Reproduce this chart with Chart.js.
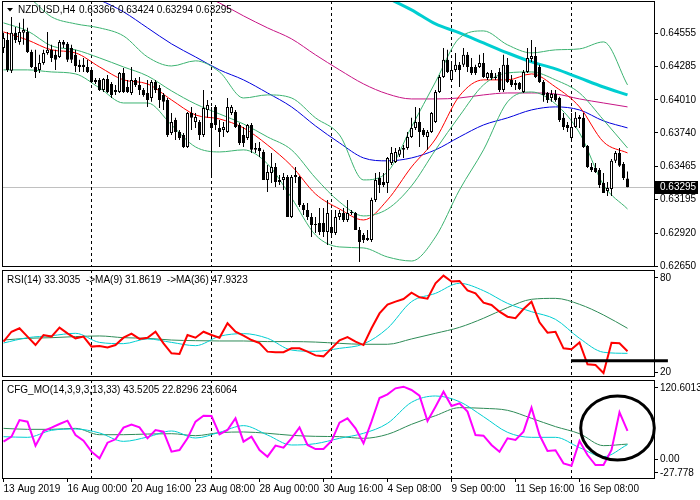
<!DOCTYPE html>
<html>
<head>
<meta charset="utf-8">
<script src="https://cdn.jsdelivr.net/npm/chart.js@4.4.0/dist/chart.umd.min.js"></script>
<style>
  html, body { margin: 0; padding: 0; background: #fff; }
  #wrap { position: relative; width: 700px; height: 500px; overflow: hidden; }
  canvas { position: absolute; left: 0; }
</style>
</head>
<body>
<div id="wrap">
  <canvas id="pricePane" width="700" height="272" style="top:0"></canvas>
  <canvas id="rsiPane" width="700" height="112" style="top:268px"></canvas>
  <canvas id="cfgPane" width="700" height="123" style="top:377px"></canvas>
</div>
<script>
// ---- NZDUSD H4 candles (13 Aug 2019 08:00 .. 18 Sep 2019 08:00) ----
const OPENS = [
  0.64436, 0.64501, 0.64248, 0.64559, 0.64485, 0.64559, 0.64567, 0.64403, 0.64280, 0.64256,
  0.64313, 0.64395, 0.64420, 0.64379, 0.64362, 0.64485, 0.64469, 0.64436, 0.64379, 0.64297,
  0.64297, 0.64280, 0.64256, 0.64157, 0.64174, 0.64092, 0.64182, 0.64141, 0.64092, 0.64075,
  0.64231, 0.64116, 0.64067, 0.64174, 0.64133, 0.64092, 0.64067, 0.64026, 0.64157, 0.64108,
  0.64051, 0.64010, 0.63740, 0.63846, 0.63748, 0.63723, 0.63625, 0.63903, 0.63830, 0.63830,
  0.63723, 0.63928, 0.63822, 0.63953, 0.63781, 0.63764, 0.63748, 0.63903, 0.63912, 0.63805,
  0.63723, 0.63699, 0.63805, 0.63617, 0.63617, 0.63584, 0.63355, 0.63412, 0.63461, 0.63355,
  0.63355, 0.63379, 0.63052, 0.63396, 0.63379, 0.63150, 0.63109, 0.63052, 0.62986, 0.63002,
  0.63002, 0.62929, 0.62970, 0.62920, 0.63052, 0.63084, 0.63027, 0.63093, 0.63084, 0.62945,
  0.62904, 0.62863, 0.62863, 0.63191, 0.63371, 0.63338, 0.63330, 0.63494, 0.63502, 0.63560,
  0.63617, 0.63617, 0.63707, 0.63781, 0.63830, 0.63764, 0.63707, 0.63748, 0.63830, 0.64075,
  0.64198, 0.64338, 0.64174, 0.64256, 0.64297, 0.64297, 0.64379, 0.64280, 0.64280, 0.64280,
  0.64313, 0.64190, 0.64231, 0.64198, 0.64239, 0.64092, 0.64297, 0.64174, 0.64149, 0.64149,
  0.64075, 0.64239, 0.64346, 0.64370, 0.64280, 0.64157, 0.64067, 0.64026, 0.64059, 0.64026,
  0.63863, 0.63805, 0.63699, 0.63789, 0.63854, 0.63863, 0.63633, 0.63461, 0.63453, 0.63437,
  0.63330, 0.63265, 0.63281, 0.63511, 0.63576, 0.63486, 0.63366
];
const HIGHS = [
  0.64559, 0.64567, 0.64690, 0.64608, 0.64641, 0.64674, 0.64600, 0.64420, 0.64420, 0.64379,
  0.64420, 0.64567, 0.64461, 0.64420, 0.64501, 0.64501, 0.64485, 0.64461, 0.64420, 0.64338,
  0.64354, 0.64338, 0.64272, 0.64190, 0.64190, 0.64190, 0.64215, 0.64157, 0.64133, 0.64239,
  0.64272, 0.64174, 0.64280, 0.64190, 0.64198, 0.64108, 0.64174, 0.64174, 0.64174, 0.64133,
  0.64067, 0.64026, 0.63903, 0.63863, 0.63764, 0.63740, 0.63912, 0.63953, 0.63903, 0.63846,
  0.64092, 0.64010, 0.63953, 0.63969, 0.63846, 0.63830, 0.64026, 0.63969, 0.63928, 0.63822,
  0.63789, 0.63813, 0.63822, 0.63658, 0.63666, 0.63601, 0.63478, 0.63576, 0.63494, 0.63396,
  0.63412, 0.63396, 0.63396, 0.63461, 0.63388, 0.63166, 0.63166, 0.63084, 0.63052, 0.63125,
  0.63125, 0.63191, 0.63109, 0.63109, 0.63109, 0.63125, 0.63191, 0.63109, 0.63093, 0.62970,
  0.62920, 0.62945, 0.63208, 0.63412, 0.63420, 0.63412, 0.63543, 0.63625, 0.63617, 0.63625,
  0.63641, 0.63748, 0.63863, 0.63953, 0.63944, 0.63781, 0.63764, 0.63912, 0.64092, 0.64215,
  0.64436, 0.64420, 0.64321, 0.64395, 0.64321, 0.64436, 0.64403, 0.64354, 0.64297, 0.64379,
  0.64395, 0.64239, 0.64256, 0.64231, 0.64272, 0.64379, 0.64354, 0.64215, 0.64174, 0.64157,
  0.64256, 0.64436, 0.64501, 0.64444, 0.64297, 0.64174, 0.64075, 0.64092, 0.64092, 0.64035,
  0.63903, 0.63830, 0.63903, 0.63912, 0.63887, 0.63903, 0.63641, 0.63494, 0.63494, 0.63453,
  0.63412, 0.63338, 0.63527, 0.63592, 0.63617, 0.63502, 0.63424
];
const LOWS = [
  0.64395, 0.64239, 0.64231, 0.64477, 0.64461, 0.64461, 0.64395, 0.64272, 0.64190, 0.64231,
  0.64297, 0.64379, 0.64321, 0.64256, 0.64354, 0.64436, 0.64321, 0.64313, 0.64239, 0.64239,
  0.64239, 0.64231, 0.64149, 0.64141, 0.64084, 0.64075, 0.64067, 0.64026, 0.64051, 0.64067,
  0.64067, 0.64067, 0.64051, 0.64116, 0.64051, 0.64035, 0.63953, 0.63994, 0.64067, 0.63944,
  0.63928, 0.63707, 0.63723, 0.63682, 0.63682, 0.63617, 0.63617, 0.63764, 0.63781, 0.63682,
  0.63707, 0.63863, 0.63396, 0.63764, 0.63625, 0.63707, 0.63740, 0.63887, 0.63781, 0.63641,
  0.63625, 0.63682, 0.63576, 0.63576, 0.63543, 0.63355, 0.63256, 0.63330, 0.63297, 0.63314,
  0.63273, 0.63052, 0.63043, 0.63330, 0.63134, 0.63068, 0.63027, 0.62888, 0.62920, 0.62904,
  0.62888, 0.62822, 0.62888, 0.62904, 0.63027, 0.63011, 0.63011, 0.63068, 0.62945, 0.62683,
  0.62839, 0.62855, 0.62847, 0.63175, 0.63248, 0.63297, 0.63248, 0.63478, 0.63494, 0.63543,
  0.63535, 0.63601, 0.63699, 0.63764, 0.63625, 0.63707, 0.63601, 0.63740, 0.63822, 0.64067,
  0.64190, 0.64231, 0.64157, 0.64239, 0.64116, 0.64280, 0.64239, 0.64215, 0.64215, 0.64272,
  0.64190, 0.64174, 0.64174, 0.64174, 0.64075, 0.64075, 0.64149, 0.64116, 0.64092, 0.64092,
  0.64067, 0.64231, 0.64321, 0.64190, 0.64149, 0.63994, 0.63985, 0.63994, 0.63994, 0.63830,
  0.63764, 0.63748, 0.63666, 0.63781, 0.63781, 0.63617, 0.63453, 0.63420, 0.63412, 0.63289,
  0.63248, 0.63224, 0.63224, 0.63494, 0.63461, 0.63355, 0.63294
];
const CLOSES = [
  0.64518, 0.64256, 0.64559, 0.64501, 0.64567, 0.64583, 0.64403, 0.64280, 0.64239, 0.64313,
  0.64395, 0.64420, 0.64354, 0.64338, 0.64485, 0.64461, 0.64338, 0.64338, 0.64288, 0.64280,
  0.64280, 0.64239, 0.64157, 0.64174, 0.64092, 0.64182, 0.64075, 0.64051, 0.64075, 0.64231,
  0.64075, 0.64075, 0.64174, 0.64133, 0.64092, 0.64051, 0.64010, 0.64157, 0.64092, 0.64010,
  0.63994, 0.63723, 0.63830, 0.63748, 0.63699, 0.63625, 0.63903, 0.63863, 0.63871, 0.63723,
  0.63944, 0.63969, 0.63781, 0.63805, 0.63748, 0.63789, 0.63953, 0.63953, 0.63789, 0.63658,
  0.63658, 0.63805, 0.63601, 0.63601, 0.63592, 0.63355, 0.63420, 0.63461, 0.63338, 0.63338,
  0.63379, 0.63052, 0.63379, 0.63379, 0.63150, 0.63109, 0.63052, 0.62986, 0.62994, 0.62929,
  0.62929, 0.63084, 0.62920, 0.63052, 0.63084, 0.63027, 0.63084, 0.63084, 0.62945, 0.62847,
  0.62863, 0.62880, 0.63191, 0.63355, 0.63314, 0.63314, 0.63535, 0.63576, 0.63584, 0.63601,
  0.63601, 0.63707, 0.63781, 0.63830, 0.63748, 0.63723, 0.63748, 0.63903, 0.64075, 0.64198,
  0.64338, 0.64239, 0.64256, 0.64297, 0.64256, 0.64379, 0.64280, 0.64231, 0.64231, 0.64313,
  0.64198, 0.64231, 0.64190, 0.64190, 0.64092, 0.64297, 0.64157, 0.64133, 0.64133, 0.64100,
  0.64239, 0.64354, 0.64370, 0.64198, 0.64157, 0.64051, 0.64010, 0.64059, 0.64010, 0.63846,
  0.63789, 0.63781, 0.63789, 0.63863, 0.63871, 0.63625, 0.63461, 0.63437, 0.63420, 0.63314,
  0.63248, 0.63289, 0.63511, 0.63576, 0.63470, 0.63371, 0.63295
];
const LAST_PRICE = 0.63295;

// ---- price-pane indicators, one reading every 6 bars ----
const MA_STEP = 6;
const BB_UPPER = [0.64911, 0.64854, 0.64690, 0.64633, 0.64600, 0.64534, 0.64362, 0.64288, 0.64330, 0.64239, 0.64026, 0.64051, 0.64026, 0.63863, 0.63723, 0.63355, 0.63420, 0.63789, 0.64157, 0.64518, 0.64575, 0.64461, 0.64395, 0.64420, 0.64428, 0.64485, 0.64133];
const BB_MIDDLE = [0.64641, 0.64575, 0.64452, 0.64420, 0.64354, 0.64280, 0.64206, 0.64084, 0.63977, 0.63895, 0.63813, 0.63707, 0.63601, 0.63371, 0.63175, 0.63060, 0.63117, 0.63306, 0.63601, 0.63879, 0.64133, 0.64231, 0.64239, 0.64174, 0.64067, 0.63846, 0.63617];
const BB_LOWER = [0.64256, 0.64256, 0.64239, 0.64223, 0.64108, 0.63985, 0.63985, 0.63805, 0.63625, 0.63584, 0.63601, 0.63486, 0.63208, 0.62904, 0.62806, 0.62798, 0.62724, 0.62691, 0.62888, 0.63273, 0.63601, 0.63994, 0.64075, 0.63977, 0.63740, 0.63314, 0.63117];
const MA_FAST = [0.64567, 0.64501, 0.64420, 0.64395, 0.64280, 0.64174, 0.64141, 0.64010, 0.63887, 0.63854, 0.63781, 0.63641, 0.63470, 0.63240, 0.63117, 0.63027, 0.63191, 0.63461, 0.63690, 0.64043, 0.64174, 0.64174, 0.64223, 0.64116, 0.63953, 0.63666, 0.63576];
const MA_BLUE = [null, null, null, 0.64911, 0.64829, 0.64731, 0.64600, 0.64469, 0.64362, 0.64256, 0.64174, 0.64067, 0.63953, 0.63797, 0.63658, 0.63535, 0.63511, 0.63535, 0.63601, 0.63707, 0.63805, 0.63863, 0.63928, 0.63953, 0.63928, 0.63838, 0.63781];
const MA_VIOLET = [null, null, null, null, null, null, null, null, 0.64895, 0.64804, 0.64698, 0.64600, 0.64510, 0.64379, 0.64256, 0.64141, 0.64059, 0.64018, 0.64018, 0.64026, 0.64051, 0.64067, 0.64067, 0.64059, 0.64018, 0.63985, 0.63953];
const MA_SLOW = [null, null, null, null, null, null, null, null, null, null, null, null, null, null, null, null, 0.64845, 0.64747, 0.64632, 0.64559, 0.64477, 0.64395, 0.64321, 0.64264, 0.64190, 0.64116, 0.64051];

// ---- RSI(14) every 2 bars, its MAs every 6 bars ----
const OSC_STEP = 2;
const RSI = [
  39.4, 45.7, 47.9, 42.6, 37.2, 43.6, 42.6, 48.3, 44.7, 41.5,
  42.6, 36.2, 36.6, 35.7, 37.2, 41.9, 44.5, 41.1, 41.9, 45.7,
  38.3, 31.9, 31.5, 43.6, 41.9, 45.7, 43.6, 41.9, 51.1, 45.7,
  43.2, 40.4, 38.5, 33.0, 32.6, 32.6, 35.1, 35.1, 33.0, 30.6,
  30.0, 35.1, 40.2, 42.3, 39.4, 37.2, 47.9, 57.4, 63.0, 64.9,
  66.6, 70.6, 67.7, 66.8, 76.6, 81.5, 77.7, 78.1, 72.1, 70.2,
  64.3, 62.8, 58.5, 55.3, 54.3, 60.2, 64.9, 51.7, 45.1, 45.7,
  35.1, 34.5, 38.9, 24.9, 24.5, 19.4, 38.7, 38.3, 33.3
];
const RSI_MA9 = [38.5, 41.9, 43.2, 44.7, 38.9, 38.1, 41.1, 38.9, 36.8, 42.8, 44.5, 41.5, 34.0, 33.2, 35.1, 37.9, 47.9, 64.9, 70.2, 76.6, 71.9, 63.8, 58.5, 53.6, 41.5, 32.6, 31.9];
const RSI_MA36 = [40.4, 41.5, 41.9, 42.6, 43.0, 41.9, 41.5, 40.4, 40.0, 39.8, 39.8, 39.4, 39.4, 39.1, 38.3, 37.7, 37.7, 41.1, 44.7, 48.5, 54.3, 61.1, 66.4, 67.0, 63.2, 56.4, 47.9];
const RSI_TICKS = [20, 80];
const RSI_TREND = { fromBar: 142, toBar: 166.1, level: 27.2 };

// ---- CFG_MO every 2 bars, signal lines every 6 bars ----
const CFG_MAIN = [
  27.2, 34.8, 60.0, 57.5, 21.2, 43.4, 48.4, 54.0, 59.0, 37.3,
  28.7, 12.1, 2.0, 25.7, 30.8, 48.4, 53.0, 48.9, 32.3, 44.9,
  42.4, 12.1, 14.6, 32.3, 57.5, 66.6, 66.1, 38.3, 44.9, 62.6,
  27.2, 34.8, 14.6, 4.5, 21.2, 18.2, 32.3, 48.9, 22.2, 16.1,
  16.1, 28.2, 56.0, 62.6, 47.4, 24.7, 57.5, 93.4, 98.9, 108.0,
  110.5, 105.5, 96.9, 58.5, 80.2, 102.9, 81.2, 85.3, 72.7, 37.3,
  36.3, 22.2, 12.1, 32.3, 29.8, 42.4, 78.7, 37.3, 13.1, 14.1,
  -5.6, -9.1, 28.2, 7.0, -8.1, -8.1, 14.6, 71.6, 43.5
];
const CFG_SIG1 = [34.8, 33.8, 44.4, 46.4, 40.4, 27.7, 34.3, 43.4, 32.8, 41.4, 51.5, 37.3, 22.2, 24.2, 32.3, 39.9, 55.0, 86.8, 96.4, 87.8, 65.1, 41.4, 33.8, 33.8, 18.2, 4.5, 22.8];
const CFG_SIG2 = [47.4, 45.9, 45.9, 47.4, 37.8, 37.8, 38.8, 39.3, 36.3, 40.9, 41.9, 39.9, 36.8, 35.3, 34.8, 32.3, 38.3, 53.5, 66.6, 78.7, 77.7, 74.7, 62.6, 50.0, 39.3, 21.2, 23.6];
const CFG_MIN = -27.778;
const CFG_MAX = 120.6013;
const CFG_LABEL_LEVELS = [-20.2, 0, 108.5];
const CFG_LABEL_TEXT = ['-27.778', '0.00', '120.6013'];
const CFG_RING = { centerBar: 153.5, level: 48, halfBars: 9.2, halfValue: 48.5 };

// ---- axes ----
const PRICE_TICKS = [0.62650, 0.62920, 0.63195, 0.63465, 0.63740, 0.64010, 0.64285, 0.64555];
const WEEK_START_BARS = [22, 52, 82, 112, 142];
const X_LABEL_BARS = [0, 16, 32, 48, 64, 80, 96, 112, 128, 144];
const X_LABEL_TEXT = ['13 Aug 2019', '16 Aug 00:00', '20 Aug 16:00', '23 Aug 08:00', '28 Aug 00:00',
  '30 Aug 16:00', '4 Sep 08:00', '9 Sep 00:00', '11 Sep 16:00', '16 Sep 08:00'];

Chart.defaults.font.family = "'Liberation Sans', Arial, sans-serif";
Chart.defaults.font.size = 10;
Chart.defaults.color = '#000';

const X_MIN = -0.375;
const X_MAX = 162.625;
const AXIS_W = 46;

function series(values, step) {
  return values.map((v, k) => ({ x: k * step, y: v }));
}

function lineSet(values, step, color, width, yAxisID, smooth) {
  return {
    type: 'line',
    data: series(values, step),
    yAxisID,
    borderColor: color,
    borderWidth: width,
    pointRadius: 0,
    fill: false,
    tension: 0,
    cubicInterpolationMode: smooth ? 'monotone' : 'default',
    spanGaps: false,
    order: 2
  };
}

function noPadding(scale) {
  scale.paddingTop = 0;
  scale.paddingBottom = 0;
  scale.paddingLeft = 0;
  scale.paddingRight = 0;
}

function xScale(show) {
  const s = {
    type: 'linear', min: X_MIN, max: X_MAX, offset: false, display: show,
    afterFit: sc => { noPadding(sc); if (show) sc.height = 22; },
    grid: { drawOnChartArea: false, tickLength: 4, color: '#000', offset: false },
    border: { display: false }
  };
  if (show) {
    s.afterBuildTicks = sc => { sc.ticks = X_LABEL_BARS.map(v => ({ value: v })); };
    s.ticks = { callback: (v, k) => X_LABEL_TEXT[k], align: 'start', autoSkip: false, maxRotation: 0, minRotation: 0, padding: 1 };
  }
  return s;
}

function yScale(min, max, tickValues, fmt) {
  return {
    position: 'right', min, max,
    afterFit: sc => { noPadding(sc); sc.width = AXIS_W; },
    afterBuildTicks: sc => { sc.ticks = tickValues.map(v => ({ value: v })); },
    ticks: { callback: fmt, padding: 2, autoSkip: false },
    grid: { drawOnChartArea: false, tickLength: 4, color: '#000' },
    border: { display: false }
  };
}

// separators, border, caption and hand-drawn marks for one pane
function paneDecor(opts) {
  return {
    id: 'paneDecor',
    beforeDatasetsDraw(chart) {
      const { ctx, chartArea: a, scales } = chart;
      ctx.save();
      if (opts.priceLine != null) {
        const y = Math.round(scales.y.getPixelForValue(opts.priceLine)) + 0.5;
        ctx.strokeStyle = '#c0c0c0';
        ctx.lineWidth = 1;
        ctx.beginPath(); ctx.moveTo(a.left, y); ctx.lineTo(a.right, y); ctx.stroke();
      }
      ctx.strokeStyle = '#000';
      ctx.lineWidth = 1;
      ctx.setLineDash([3, 3]);
      WEEK_START_BARS.forEach(i => {
        const x = scales.x.getPixelForValue(i);
        ctx.beginPath(); ctx.moveTo(x, a.top); ctx.lineTo(x, a.bottom); ctx.stroke();
      });
      ctx.restore();
    },
    afterDraw(chart) {
      const { ctx, chartArea: a, scales } = chart;
      ctx.save();
      ctx.strokeStyle = '#000';
      ctx.lineWidth = 1;
      ctx.strokeRect(a.left + 0.5, a.top + 0.5, a.width, a.height);

      ctx.fillStyle = '#000';
      ctx.font = "10px 'Liberation Sans', Arial, sans-serif";
      ctx.textBaseline = 'middle';
      ctx.textAlign = 'left';
      opts.captions.forEach(c => ctx.fillText(c.text, c.x, c.y));

      if (opts.marker) {
        ctx.beginPath();
        ctx.moveTo(7, 8); ctx.lineTo(13, 8); ctx.lineTo(10, 11.5); ctx.closePath();
        ctx.fill();
      }
      if (opts.priceLine != null) {
        const y = Math.round(scales.y.getPixelForValue(opts.priceLine));
        ctx.fillStyle = '#000';
        ctx.fillRect(a.right + 1, y - 6, 43, 13);
        ctx.fillStyle = '#fff';
        ctx.fillText(opts.priceLine.toFixed(5), a.right + 6, y + 0.5);
      }
      if (opts.trend) {
        const t = opts.trend;
        const y = scales.y.getPixelForValue(t.level);
        ctx.strokeStyle = '#000';
        ctx.lineWidth = 3;
        ctx.beginPath();
        ctx.moveTo(scales.x.getPixelForValue(t.fromBar) - 0.5, y);
        ctx.lineTo(scales.x.getPixelForValue(t.toBar), y);
        ctx.stroke();
      }
      if (opts.ring) {
        const r = opts.ring;
        const cx = scales.x.getPixelForValue(r.centerBar);
        const cy = scales.y.getPixelForValue(r.level);
        const rx = Math.abs(scales.x.getPixelForValue(r.centerBar + r.halfBars) - cx);
        const ry = Math.abs(scales.y.getPixelForValue(r.level + r.halfValue) - cy);
        ctx.strokeStyle = '#000';
        ctx.lineWidth = 3;
        ctx.beginPath();
        ctx.ellipse(cx, cy, rx, ry, 0, 0, Math.PI * 2);
        ctx.stroke();
      }
      ctx.restore();
    }
  };
}

const baseOptions = {
  responsive: false,
  animation: false,
  events: [],
  plugins: { legend: { display: false }, tooltip: { enabled: false } }
};

// ---- price pane ----
const bodyColors = CLOSES.map((c, i) => (c >= OPENS[i] ? '#ffffff' : '#000000'));

new Chart(document.getElementById('pricePane'), {
  type: 'line',
  data: {
    datasets: [
      {
        type: 'bar',
        data: OPENS.map((o, i) => ({ x: i, y: [o, CLOSES[i]] })),
        backgroundColor: bodyColors,
        borderColor: '#000',
        borderWidth: 1,
        borderSkipped: false,
        barThickness: 3,
        grouped: false,
        inflateAmount: 0,
        order: 0
      },
      {
        type: 'bar',
        data: LOWS.map((l, i) => ({ x: i, y: [l, HIGHS[i]] })),
        backgroundColor: '#000',
        borderWidth: 0,
        barThickness: 1,
        grouped: false,
        inflateAmount: 0,
        order: 1
      },
      lineSet(BB_UPPER, MA_STEP, '#3cb371', 1, 'y', true),
      lineSet(BB_MIDDLE, MA_STEP, '#3cb371', 1, 'y', true),
      lineSet(BB_LOWER, MA_STEP, '#3cb371', 1, 'y', true),
      lineSet(MA_FAST, MA_STEP, '#ff0000', 1, 'y', true),
      lineSet(MA_BLUE, MA_STEP, '#0000dd', 1, 'y', true),
      lineSet(MA_VIOLET, MA_STEP, '#c71585', 1, 'y', true),
      lineSet(MA_SLOW, MA_STEP, '#00ced1', 3, 'y', true)
    ]
  },
  options: Object.assign({}, baseOptions, {
    layout: { padding: { left: 2, right: 0, top: 1, bottom: 6 } },
    scales: {
      x: xScale(false),
      y: yScale(0.62650, 0.64820, PRICE_TICKS, v => v.toFixed(5))
    }
  }),
  plugins: [paneDecor({
    priceLine: LAST_PRICE,
    marker: true,
    captions: [
      { text: 'NZDUSD,H4', x: 18, y: 10 },
      { text: '0.63366 0.63424 0.63294 0.63295', x: 79, y: 10 }
    ]
  })]
});

// ---- RSI pane ----
new Chart(document.getElementById('rsiPane'), {
  type: 'line',
  data: {
    datasets: [
      Object.assign(lineSet(RSI, OSC_STEP, '#ff0000', 2, 'y', false), { order: 1 }),
      lineSet(RSI_MA9, MA_STEP, '#00ced1', 1, 'y', true),
      lineSet(RSI_MA36, MA_STEP, '#2e8b57', 1, 'y', true)
    ]
  },
  options: Object.assign({}, baseOptions, {
    layout: { padding: { left: 2, right: 0, top: 2, bottom: 4 } },
    scales: {
      x: xScale(false),
      y: yScale(17.45, 85.1, RSI_TICKS, v => String(v))
    }
  }),
  plugins: [paneDecor({
    trend: RSI_TREND,
    captions: [{ text: 'RSI(14) 33.3035  ->MA(9) 31.8619  ->MA(36) 47.9323', x: 7, y: 12 }]
  })]
});

// ---- CFG_MO pane ----
new Chart(document.getElementById('cfgPane'), {
  type: 'line',
  data: {
    datasets: [
      Object.assign(lineSet(CFG_MAIN, OSC_STEP, '#ff00ff', 2, 'y', false), { order: 1 }),
      lineSet(CFG_SIG1, MA_STEP, '#00ced1', 1, 'y', true),
      lineSet(CFG_SIG2, MA_STEP, '#2e8b57', 1, 'y', true)
    ]
  },
  options: Object.assign({}, baseOptions, {
    layout: { padding: { left: 2, right: 0, top: 3, bottom: 0 } },
    scales: {
      x: xScale(true),
      y: yScale(CFG_MIN, CFG_MAX, CFG_LABEL_LEVELS, (v, k) => CFG_LABEL_TEXT[k])
    }
  }),
  plugins: [paneDecor({
    ring: CFG_RING,
    captions: [{ text: 'CFG_MO(14,3,9,3,13,33) 43.5205 22.8296 23.6064', x: 7, y: 13 }]
  })]
});
</script>
</body>
</html>
